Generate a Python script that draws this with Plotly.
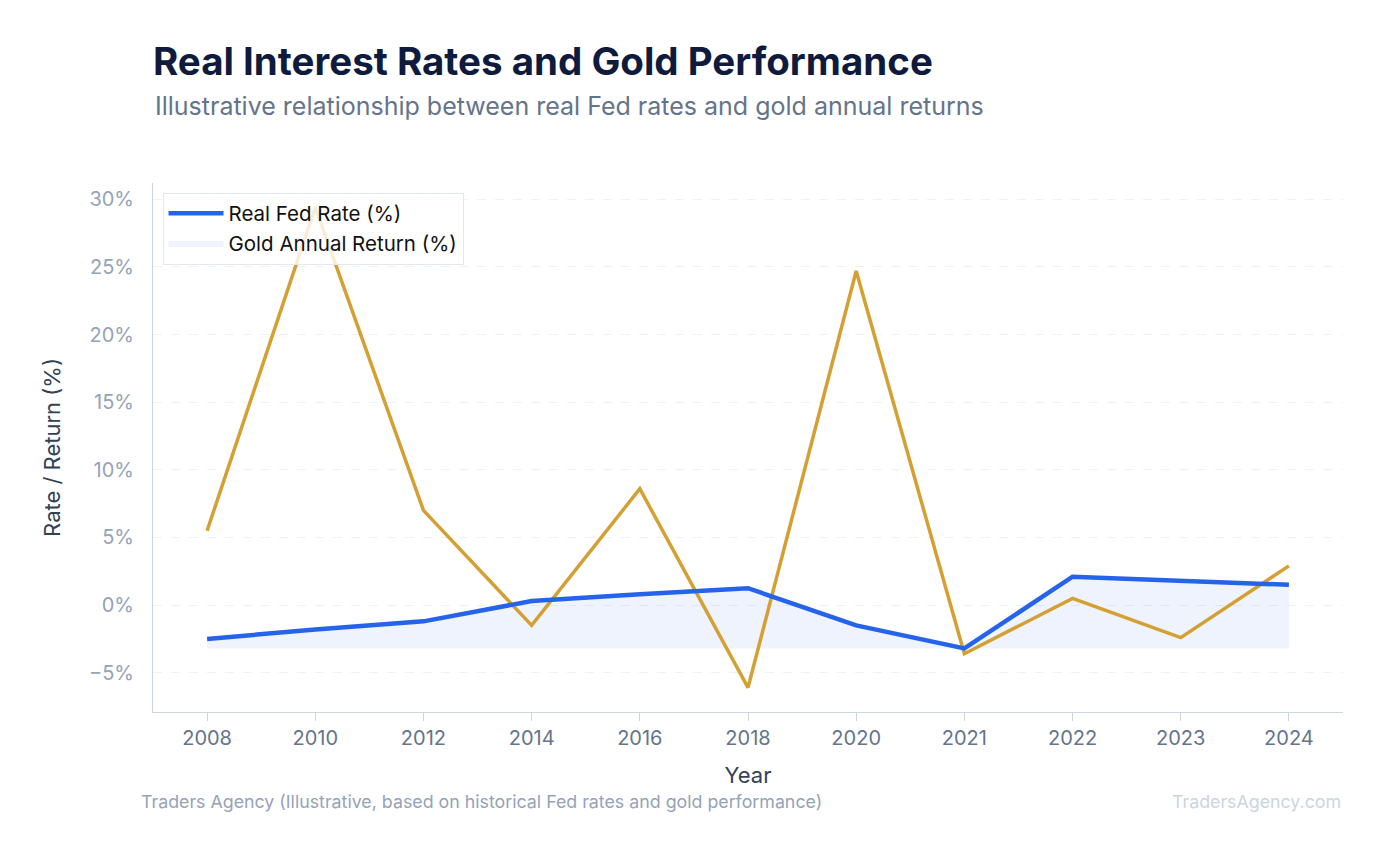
import plotly.graph_objects as go

years = ["2008","2010","2012","2014","2016","2018","2020","2021","2022","2023","2024"]
fed_rate = [-2.5,-1.8,-1.2,0.3,0.8,1.25,-1.5,-3.2,2.1,1.8,1.5]
gold_return = [5.5,29.4,7.0,-1.5,8.6,-6.1,24.7,-3.6,0.5,-2.4,2.9]
base = min(fed_rate)

fig = go.Figure()
fig.add_trace(go.Scatter(x=years, y=[base]*len(years), mode="lines", line=dict(width=0), showlegend=False, hoverinfo="skip"))
fig.add_trace(go.Scatter(x=years, y=fed_rate, mode="lines", fill="tonexty", fillcolor="rgba(37,99,235,0.08)",
                         line=dict(width=0), name="Gold Annual Return (%)"))
fig.add_trace(go.Scatter(x=years, y=gold_return, mode="lines", line=dict(color="#d4a033", width=3.5), showlegend=False))
fig.add_trace(go.Scatter(x=years, y=fed_rate, mode="lines", line=dict(color="#2563eb", width=4.5), name="Real Fed Rate (%)"))

fig.update_layout(
    width=1388, height=845, paper_bgcolor="white", plot_bgcolor="white",
    font=dict(family="Inter", color="#64748b"),
    margin=dict(l=145, r=53, t=175, b=141),
    title=dict(text="<b>Real Interest Rates and Gold Performance</b>", x=145/1388, xanchor="left", y=1-54/845, yanchor="middle",
               font=dict(size=38.5, color="#0f1b3d")),
    legend=dict(x=0.008, y=0.982, xanchor="left", yanchor="top", bgcolor="rgba(255,255,255,0.8)", bordercolor="#e2e8f0", borderwidth=1,
                font=dict(size=20.5, color="#111"), traceorder="reversed", itemwidth=55),
    xaxis=dict(type="category", range=[-0.5,10.5], showgrid=False, showline=True, linecolor="#cbd5e1", ticks="outside",
               ticklen=8, tickcolor="#cbd5e1", tickfont=dict(size=20, color="#64748b"),
               title=dict(text="Year", font=dict(size=22, color="#334155"), standoff=18)),
    yaxis=dict(range=[-7.9,31.2], dtick=5, ticksuffix="%", showgrid=True, gridcolor="#eef1f5", griddash="dash",
               zeroline=False, showline=True, linecolor="#cbd5e1", tickfont=dict(size=20, color="#94a3b8"),
               ticklabelstandoff=14,
               title=dict(text="Rate / Return (%)", font=dict(size=22, color="#334155"), standoff=22)),
)
fig.add_annotation(text="Illustrative relationship between real Fed rates and gold annual returns", xref="paper", yref="paper",
                   x=0, y=1+(183-106)/529, xanchor="left", yanchor="middle", showarrow=False, font=dict(size=25, color="#64748b"))
fig.add_annotation(text="Traders Agency (Illustrative, based on historical Fed rates and gold performance)", xref="paper", yref="paper",
                   x=-14/1190, y=-(801-712)/529, xanchor="left", yanchor="middle", showarrow=False, font=dict(size=17.8, color="#94a3b8"))
fig.add_annotation(text="TradersAgency.com", xref="paper", yref="paper",
                   x=1, y=-(801-712)/529, xanchor="right", yanchor="middle", showarrow=False, font=dict(size=17.8, color="#cbd5e1"))
fig.write_html("out.html")
